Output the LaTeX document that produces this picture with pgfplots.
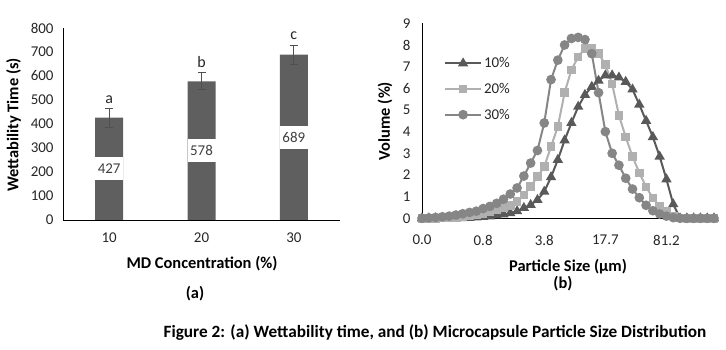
\documentclass[border=0pt]{standalone}
\usepackage{fontspec}
\setmainfont{Carlito}
\usepackage{pgfplots}
\pgfplotsset{compat=1.18}
\definecolor{barc}{HTML}{5F5F5F}
\definecolor{errc}{HTML}{505050}
\definecolor{tickc}{HTML}{262626}
\definecolor{lblc}{HTML}{404040}
\definecolor{sA}{HTML}{595959}
\definecolor{sB}{HTML}{B0B0B0}
\definecolor{sC}{HTML}{868686}
\newcommand\tfs{\fontsize{15}{18}\selectfont}
\newcommand\lfs{\bfseries\fontsize{16.5}{19.8}\selectfont}
\begin{document}
\begin{tikzpicture}
\path[use as bounding box] (0bp,0bp) rectangle (726bp,350bp);
% ---------- (a) ----------
\begin{axis}[
  at={(63bp,130bp)}, anchor=south west, scale only axis,
  width=277bp, height=192bp,
  xmin=-0.5, xmax=2.5, ymin=0, ymax=800,
  xtick={0,1,2}, xticklabels={10,20,30},
  ytick={0,100,...,800},
  axis x line*=bottom, axis y line*=left,
  axis line style={black, line width=0.8bp, -},
  major tick length=0pt,
  tick label style={font=\tfs, text=tickc},
  /pgf/number format/assume math mode=true,
  xticklabel style={yshift=-9bp},
  yticklabel style={xshift=-6bp},
  clip=false,
]
\addplot[ybar, bar width=28bp, bar shift=0pt, fill=barc, draw=none,
  error bars/.cd, y dir=both, y explicit,
  error bar style={color=errc, line width=0.8bp},
  error mark options={rotate=90, mark size=4bp, line width=0.8bp, color=errc}]
  coordinates {(0,427) +- (0,40) (1,578) +- (0,35) (2,689) +- (0,40)};
\addplot[draw=none, mark=none, nodes near coords, point meta=explicit symbolic,
  every node near coord/.append style={anchor=center, fill=white, minimum width=28bp,
  minimum height=23bp, inner sep=0pt, font=\tfs, text=lblc}]
  coordinates {(0,213.5)[427] (1,289)[578] (2,344.5)[689]};
\addplot[draw=none, mark=none, nodes near coords, point meta=explicit symbolic,
  every node near coord/.append style={anchor=center, inner sep=0pt, font=\fontsize{16}{19}\selectfont, text=tickc}]
  coordinates {(0,503)[a] (1,658)[b] (2,770)[c]};
\end{axis}
% ---------- (b) ----------
\begin{axis}[
  at={(422bp,131.7bp)}, anchor=south west, scale only axis,
  width=292bp, height=195bp,
  xmin=0, xmax=43, ymin=0, ymax=9,
  xtick={0,9,18,27,36}, xticklabels={0.0,0.8,3.8,17.7,81.2},
  ytick={0,1,...,9},
  axis x line*=bottom, axis y line*=left,
  axis line style={black, line width=0.8bp, -},
  major tick length=0pt,
  tick label style={font=\tfs, text=tickc},
  /pgf/number format/assume math mode=true,
  xticklabel style={yshift=-13bp},
  yticklabel style={xshift=-8bp},
  clip=false,
  legend style={at={(0.075,0.836)}, anchor=north west, draw=none, fill=none,
    font=\tfs, text=tickc, row sep=10bp, inner sep=0pt, cells={anchor=west}},
  legend image code/.code={\draw[mark repeat=2,mark phase=2,#1] plot coordinates {(0bp,0bp) (18bp,0bp) (36bp,0bp)};},
]
\addplot[color=sA, line width=2bp, mark=triangle*, mark size=4bp, mark options={solid, fill=sA, draw=sA}]
  table[row sep=\\] {x y\\
0 0\\ 1 0\\ 2 0\\ 3 0\\ 4 0\\ 5 0\\ 6 0.01\\ 7 0.02\\ 8 0.04\\ 9 0.06\\
10 0.09\\ 11 0.13\\ 12 0.18\\ 13 0.24\\ 14 0.33\\ 15 0.48\\ 16 0.62\\ 17 0.85\\ 18 1.23\\ 19 1.9\\
20 2.7\\ 21 3.6\\ 22 4.4\\ 23 5.15\\ 24 5.7\\ 25 6.07\\ 26 6.35\\ 27 6.6\\ 28 6.6\\ 29 6.5\\
30 6.3\\ 31 5.95\\ 32 5.25\\ 33 4.5\\ 34 3.75\\ 35 2.85\\ 36 1.8\\ 37 0.65\\ 38 0\\ 39 0\\
40 0\\ 41 0\\ 42 0\\ 43 0\\};
\addlegendentry{10\%}
\addplot[color=sB, line width=2bp, mark=square*, mark size=3.3bp, mark options={solid, fill=sB, draw=sB}]
  table[row sep=\\] {x y\\
0 0\\ 1 0\\ 2 0\\ 3 0.01\\ 4 0.02\\ 5 0.04\\ 6 0.07\\ 7 0.11\\ 8 0.16\\ 9 0.22\\
10 0.3\\ 11 0.4\\ 12 0.5\\ 13 0.6\\ 14 0.77\\ 15 1.08\\ 16 1.46\\ 17 1.92\\ 18 2.38\\ 19 3.31\\
20 4.23\\ 21 5.8\\ 22 6.85\\ 23 7.45\\ 24 7.85\\ 25 7.85\\ 26 7.6\\ 27 7.1\\ 28 6.2\\ 29 4.75\\
30 3.75\\ 31 2.85\\ 32 2.1\\ 33 1.45\\ 34 0.93\\ 35 0.54\\ 36 0.3\\ 37 0.1\\ 38 0.02\\ 39 0\\
40 0\\ 41 0\\ 42 0\\ 43 0\\};
\addlegendentry{20\%}
\addplot[color=sC, line width=2bp, mark=*, mark size=3.8bp, mark options={solid, fill=sC, draw=sC}]
  table[row sep=\\] {x y\\
0 0\\ 1 0.02\\ 2 0.04\\ 3 0.07\\ 4 0.1\\ 5 0.15\\ 6 0.21\\ 7 0.27\\ 8 0.33\\ 9 0.45\\
10 0.55\\ 11 0.69\\ 12 0.88\\ 13 1.12\\ 14 1.4\\ 15 1.95\\ 16 2.55\\ 17 3.13\\ 18 4.4\\ 19 6.4\\
20 7.3\\ 21 8.0\\ 22 8.3\\ 23 8.35\\ 24 8.25\\ 25 7.6\\ 26 5.8\\ 27 4.0\\ 28 3.0\\ 29 2.45\\
30 1.85\\ 31 1.35\\ 32 0.95\\ 33 0.6\\ 34 0.35\\ 35 0.2\\ 36 0.1\\ 37 0.03\\ 38 0\\ 39 0\\
40 0\\ 41 0\\ 42 0\\ 43 0\\};
\addlegendentry{30\%}
\end{axis}
% ---------- titles ----------
\node[font=\lfs, rotate=90] at (13.5bp,225bp) {Wettability Time (s)};
\node[font=\lfs] at (202bp,86.7bp) {MD Concentration (\%)};
\node[font=\lfs] at (195bp,56.7bp) {(a)};
\node[font=\lfs, rotate=90] at (385bp,229bp) {Volume (\%)};
\node[font=\lfs] at (568bp,83.3bp) {Particle Size (µm)};
\node[font=\lfs] at (563bp,66.7bp) {(b)};
\node[font=\bfseries\fontsize{17.3}{20.8}\selectfont] at (435bp,17bp) {Figure 2: (a) Wettability time, and (b) Microcapsule Particle Size Distribution};
\end{tikzpicture}
\end{document}
